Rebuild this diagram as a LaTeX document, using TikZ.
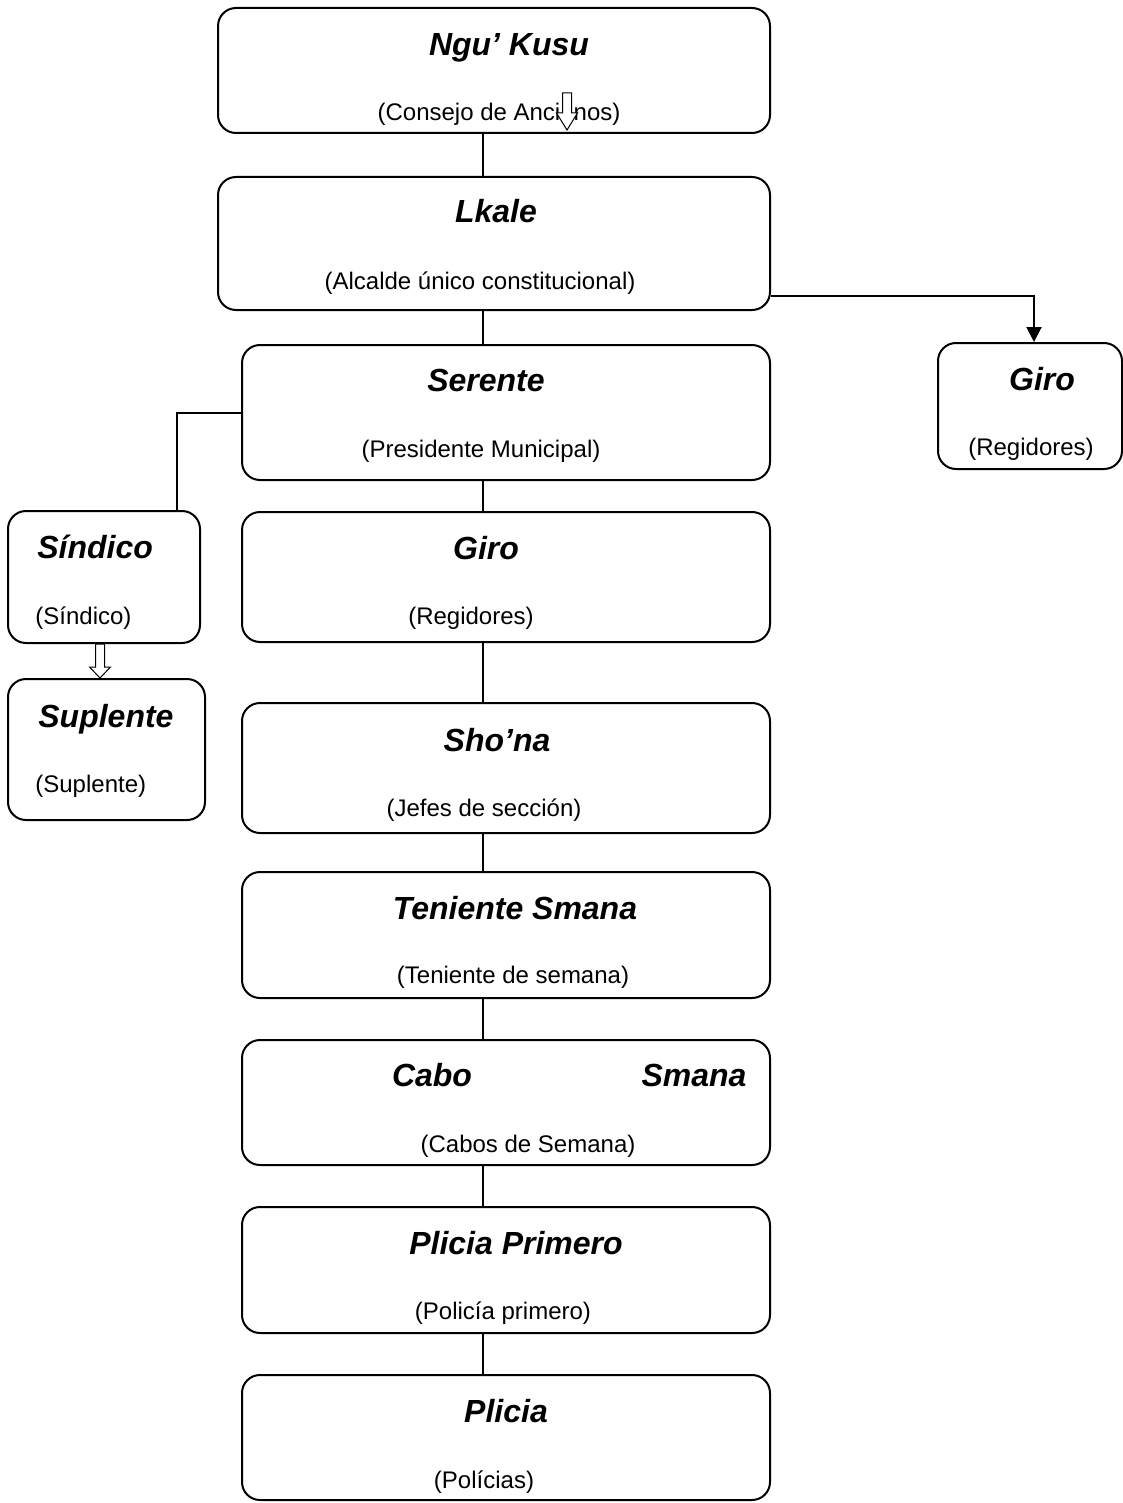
\documentclass[tikz,border=0pt]{standalone}
\usepackage{fontspec}
\setmainfont{Liberation Sans}
\usetikzlibrary{positioning,calc,fit,arrows.meta}
% hollow block arrow, drawn straight down from #2 to #3, head length #1
\newcommand{\blockarrow}[3][5.5pt]{%
  \path let \p1=#2, \p2=#3 in
    [draw,fill=white,line width=0.5pt]
    (\x1-2.25pt,\y1) -- (\x1+2.25pt,\y1) -- (\x1+2.25pt,\y2+#1) -- (\x1+5.25pt,\y2+#1)
    -- (\x1,\y2) -- (\x1-5.25pt,\y2+#1) -- (\x1-2.25pt,\y2+#1) -- cycle;}

\begin{document}
\begin{tikzpicture}[x=0.5pt,y=-0.5pt,
    orgbox/.style={draw,line width=1pt,rounded corners=9pt,inner sep=0pt},
    ttl/.style={font=\fontsize{16}{19}\selectfont\bfseries\itshape,anchor=base,inner sep=0pt},
    sub/.style={font=\fontsize{12}{14}\selectfont,anchor=base,inner sep=0pt},
    conn/.style={line width=1pt}]
  \useasboundingbox (0,0) rectangle (1123,1503);
  % --- main column boxes: name/x1/y1/y2 ---
  \foreach \nm/\xa/\ya/\yb in {ngu/218/8/133, lkale/218/177/310, serente/242/345/480,
        giro/242/512/642, shona/242/703/833, teniente/242/872/998,
        cabo/242/1040/1165, primero/242/1207/1333, plicia/242/1375/1500}{%
    \node[orgbox,fit={(\xa,\ya) (770,\yb)}] (\nm) {};}
  % --- side boxes ---
  \node[orgbox,fit={(938,343) (1122,469)}] (giror) {};
  \node[orgbox,fit={(8,511) (200,643)}] (sindico) {};
  \node[orgbox,fit={(8,679) (205,820)}] (suplente) {};
  % --- titles ---
  \foreach \nm/\tx/\ty/\lab in {ngu/509/56/{Ngu’ Kusu}, lkale/496/223/Lkale,
        serente/486/391/Serente, giror/1042/390/Giro, giro/486/559/Giro,
        shona/497/751/{Sho’na}, teniente/515/919/{Teniente Smana},
        primero/516/1254/{Plicia Primero}, plicia/506/1422/Plicia}{%
    \node[ttl] (\nm-t) at (\tx,\ty) {\lab};}
  \node[ttl] (cabo-t) at (432,1086) {Cabo};
  \node[ttl] (cabo-t2) at (694,1086) {Smana};
  \node[ttl,anchor=base west] (sindico-t) at (37,558) {Síndico};
  \node[ttl,anchor=base west] (suplente-t) at (38,727) {Suplente};
  % --- subtitles ---
  \foreach \nm/\sx/\sy/\lab in {ngu/499/121/{(Consejo de Ancianos)},
        lkale/480/289/{(Alcalde único constitucional)},
        serente/481/457/{(Presidente Municipal)}, giror/1031/455/{(Regidores)},
        giro/471/624/{(Regidores)}, shona/484/816/{(Jefes de sección)},
        teniente/513/983/{(Teniente de semana)}, cabo/528/1152/{(Cabos de Semana)},
        primero/503/1319/{(Policía primero)}, plicia/484/1488/{(Polícias)}}{%
    \node[sub] (\nm-s) at (\sx,\sy) {\lab};}
  \node[sub,anchor=base west] (sindico-s) at (35,624) {(Síndico)};
  \node[sub,anchor=base west] (suplente-s) at (35,792) {(Suplente)};
  % --- connectors ---
  \coordinate (spine) at (483,0);
  \foreach \a/\b in {ngu/lkale, lkale/serente, serente/giro, giro/shona,
        shona/teniente, teniente/cabo, cabo/primero, primero/plicia}{%
    \draw[conn] (spine |- \a.south) -- (spine |- \b.north);}
  \draw[conn,-{Triangle[length=7.5pt,width=7.5pt]}] ([yshift=7.5pt]lkale.south east) -| ([xshift=2pt]giror.north);
  \draw[conn] (serente.west) -| ($(sindico.north)+(72.5,0)$);
  \blockarrow{([xshift=-2pt]sindico.south)}{([xshift=-2pt]suplente.north)}
  \blockarrow[8.5pt]{(567,93)}{(567,130)}
\end{tikzpicture}
\end{document}
